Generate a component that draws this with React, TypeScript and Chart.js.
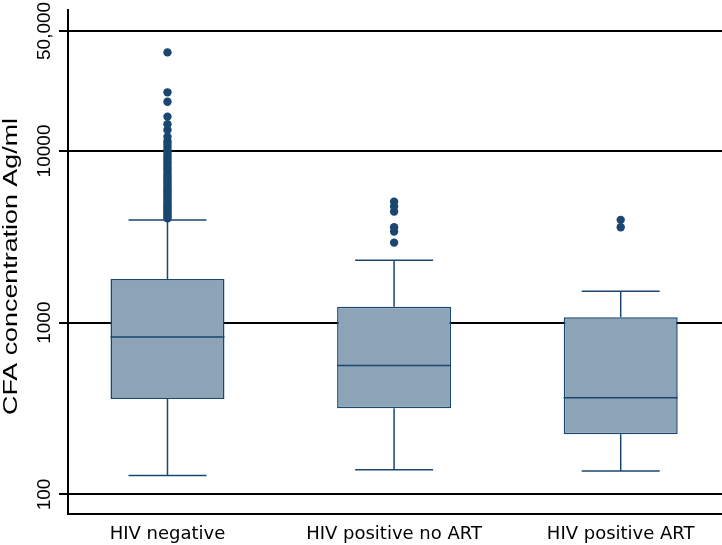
import React, { useEffect, useRef } from "react";
import { Chart, registerables } from "chart.js";

Chart.register(...registerables);

// ---- data ----
const categories = ["HIV negative", "HIV positive no ART", "HIV positive ART"];
const categoryPositions = [1, 2, 3];
const lowerWhisker = [129, 139, 137];
const q1 = [359, 317, 224];
const median = [824, 563, 365];
const q3 = [1799, 1237, 1077];
const upperWhisker = [3965, 2312, 1526];
const outliersHivNegative = [
  4050, 4150, 4250, 4350, 4450, 4560, 4680, 4800, 4920, 5050, 5200, 5350, 5500,
  5650, 5800, 5950, 6100, 6300, 6500, 6700, 6900, 7100, 7300, 7550, 7800, 8050,
  8300, 8600, 8900, 9200, 9500, 9850, 10200, 10600, 11000, 11400, 12100, 13250,
  14300, 15850, 19350, 21950, 37500,
];
const outliersHivPosNoArt = [2926, 3392, 3597, 4434, 4743, 5071];
const outliersHivPosArt = [3598, 3970];
const yTickValues = [100, 1000, 10000, 50000];
const yTickLabels = ["100", "1000", "10000", "50,000"];
const yAxisTitle = "CFA concentration Ag/ml";

// ---- styles ----
const NAVY = "#1A476F";
const BOX_FILL = "#8DA3B8";
const AXIS = "#000000";

const CAP_HALF_WIDTH = 0.172; // in x-axis units
const LINE_W = 1.5;

const boxPlugin = {
  id: "boxWhiskers",
  beforeDatasetsDraw(chart: any) {
    const x = chart.scales.x;
    const y = chart.scales.y;
    const ctx = chart.ctx;
    ctx.save();
    ctx.strokeStyle = NAVY;
    ctx.lineWidth = LINE_W;
    categoryPositions.forEach((pos, i) => {
      const cx = x.getPixelForValue(pos);
      const capHalf = Math.abs(x.getPixelForValue(pos + CAP_HALF_WIDTH) - cx);
      const yQ1 = y.getPixelForValue(q1[i]);
      const yQ3 = y.getPixelForValue(q3[i]);
      const yLo = y.getPixelForValue(lowerWhisker[i]);
      const yHi = y.getPixelForValue(upperWhisker[i]);
      ctx.beginPath();
      ctx.moveTo(cx, yQ3);
      ctx.lineTo(cx, yHi);
      ctx.moveTo(cx - capHalf, yHi);
      ctx.lineTo(cx + capHalf, yHi);
      ctx.moveTo(cx, yQ1);
      ctx.lineTo(cx, yLo);
      ctx.moveTo(cx - capHalf, yLo);
      ctx.lineTo(cx + capHalf, yLo);
      ctx.stroke();
    });
    ctx.restore();
  },
  afterDatasetDraw(chart: any, args: any) {
    if (args.meta.type !== "bar") return;
    const y = chart.scales.y;
    const ctx = chart.ctx;
    ctx.save();
    ctx.strokeStyle = NAVY;
    ctx.lineWidth = LINE_W;
    args.meta.data.forEach((bar: any, i: number) => {
      const { x: bx, width } = bar.getProps(["x", "width"], true);
      const ym = y.getPixelForValue(median[i]);
      ctx.beginPath();
      ctx.moveTo(bx - width / 2, ym);
      ctx.lineTo(bx + width / 2, ym);
      ctx.stroke();
    });
    ctx.restore();
  },
};

const titlePlugin = {
  id: "yTitle",
  afterDraw(chart: any) {
    const ctx = chart.ctx;
    const area = chart.chartArea;
    ctx.save();
    ctx.font = '19.5px "Liberation Sans", Arial, sans-serif';
    ctx.fillStyle = "#000";
    const natural = ctx.measureText(yAxisTitle).width;
    const target = 297;
    ctx.translate(16.7, (area.top + area.bottom) / 2 + 4.5);
    ctx.rotate(-Math.PI / 2);
    ctx.scale(target / natural, 1);
    ctx.textAlign = "center";
    ctx.textBaseline = "alphabetic";
    ctx.fillText(yAxisTitle, 0, 0);
    ctx.restore();
  },
};

export default function App() {
  const canvasRef = useRef<HTMLCanvasElement | null>(null);

  useEffect(() => {
    document.body.style.margin = "0";
    const canvas = canvasRef.current;
    if (!canvas) return;

    const outlierPoints = [
      ...outliersHivNegative.map((v) => ({ x: categoryPositions[0], y: v })),
      ...outliersHivPosNoArt.map((v) => ({ x: categoryPositions[1], y: v })),
      ...outliersHivPosArt.map((v) => ({ x: categoryPositions[2], y: v })),
    ];

    const chart = new Chart(canvas, {
      type: "bar",
      data: {
        datasets: [
          {
            type: "bar",
            label: "IQR",
            data: categoryPositions.map((p, i) => ({ x: p, y: [q1[i], q3[i]] })) as any,
            backgroundColor: BOX_FILL,
            borderColor: NAVY,
            borderWidth: LINE_W,
            borderSkipped: false,
            categoryPercentage: 1,
            barPercentage: 0.503,
            order: 2,
          } as any,
          {
            type: "scatter",
            label: "Outliers",
            data: outlierPoints,
            backgroundColor: NAVY,
            borderColor: NAVY,
            borderWidth: 0,
            pointRadius: 4.2,
            order: 1,
          } as any,
        ],
      },
      options: {
        responsive: false,
        animation: false,
        layout: { autoPadding: false, padding: { top: 10, right: 0, bottom: 0, left: 0 } },
        plugins: {
          legend: { display: false },
          tooltip: { enabled: false },
          title: { display: false },
        },
        scales: {
          x: {
            type: "linear",
            position: "bottom",
            min: 0.561,
            max: 3.447,
            bounds: "data",
            offset: false,
            grid: { display: false, drawTicks: false },
            border: { display: true, color: AXIS, width: 2 },
            ticks: {
              autoSkip: false,
              maxRotation: 0,
              minRotation: 0,
              padding: 9.5,
              color: "#000",
              font: { family: '"DejaVu Sans", sans-serif', size: 18 },
              callback: (value: any) => {
                const idx = categoryPositions.indexOf(Number(value));
                return idx >= 0 ? categories[idx] : "";
              },
            },
            afterBuildTicks: (scale: any) => {
              scale.ticks = categoryPositions.map((v) => ({ value: v }));
            },
            afterFit: (scale: any) => {
              scale.height = 31;
              scale.paddingLeft = 0;
              scale.paddingRight = 0;
              scale.paddingTop = 0;
              scale.paddingBottom = 0;
            },
          } as any,
          y: {
            type: "logarithmic",
            position: "left",
            min: 76.9,
            max: 66200,
            bounds: "data",
            beginAtZero: false,
            grid: {
              display: true,
              color: AXIS,
              lineWidth: 2,
              drawTicks: true,
              tickLength: 9,
              tickColor: AXIS,
              tickWidth: 2,
            },
            border: { display: true, color: AXIS, width: 2 },
            ticks: {
              autoSkip: false,
              minRotation: 90,
              maxRotation: 90,
              crossAlign: "center",
              padding: -14.75,
              color: "#000",
              font: { family: '"Liberation Sans", Arial, sans-serif', size: 19 },
              callback: (value: any) => {
                const idx = yTickValues.indexOf(Number(value));
                return idx >= 0 ? yTickLabels[idx] : "";
              },
            },
            afterBuildTicks: (scale: any) => {
              scale.ticks = yTickValues.map((v) => ({ value: v }));
            },
            afterFit: (scale: any) => {
              scale.width = 68;
              scale.paddingLeft = 0;
              scale.paddingRight = 0;
              scale.paddingTop = 0;
              scale.paddingBottom = 0;
            },
          } as any,
        },
      },
      plugins: [boxPlugin, titlePlugin],
    });

    return () => {
      chart.destroy();
    };
  }, []);

  return (
    <div style={{ width: 722, height: 545, position: "relative" }}>
      <canvas ref={canvasRef} width={722} height={545} style={{ display: "block" }} />
    </div>
  );
}
